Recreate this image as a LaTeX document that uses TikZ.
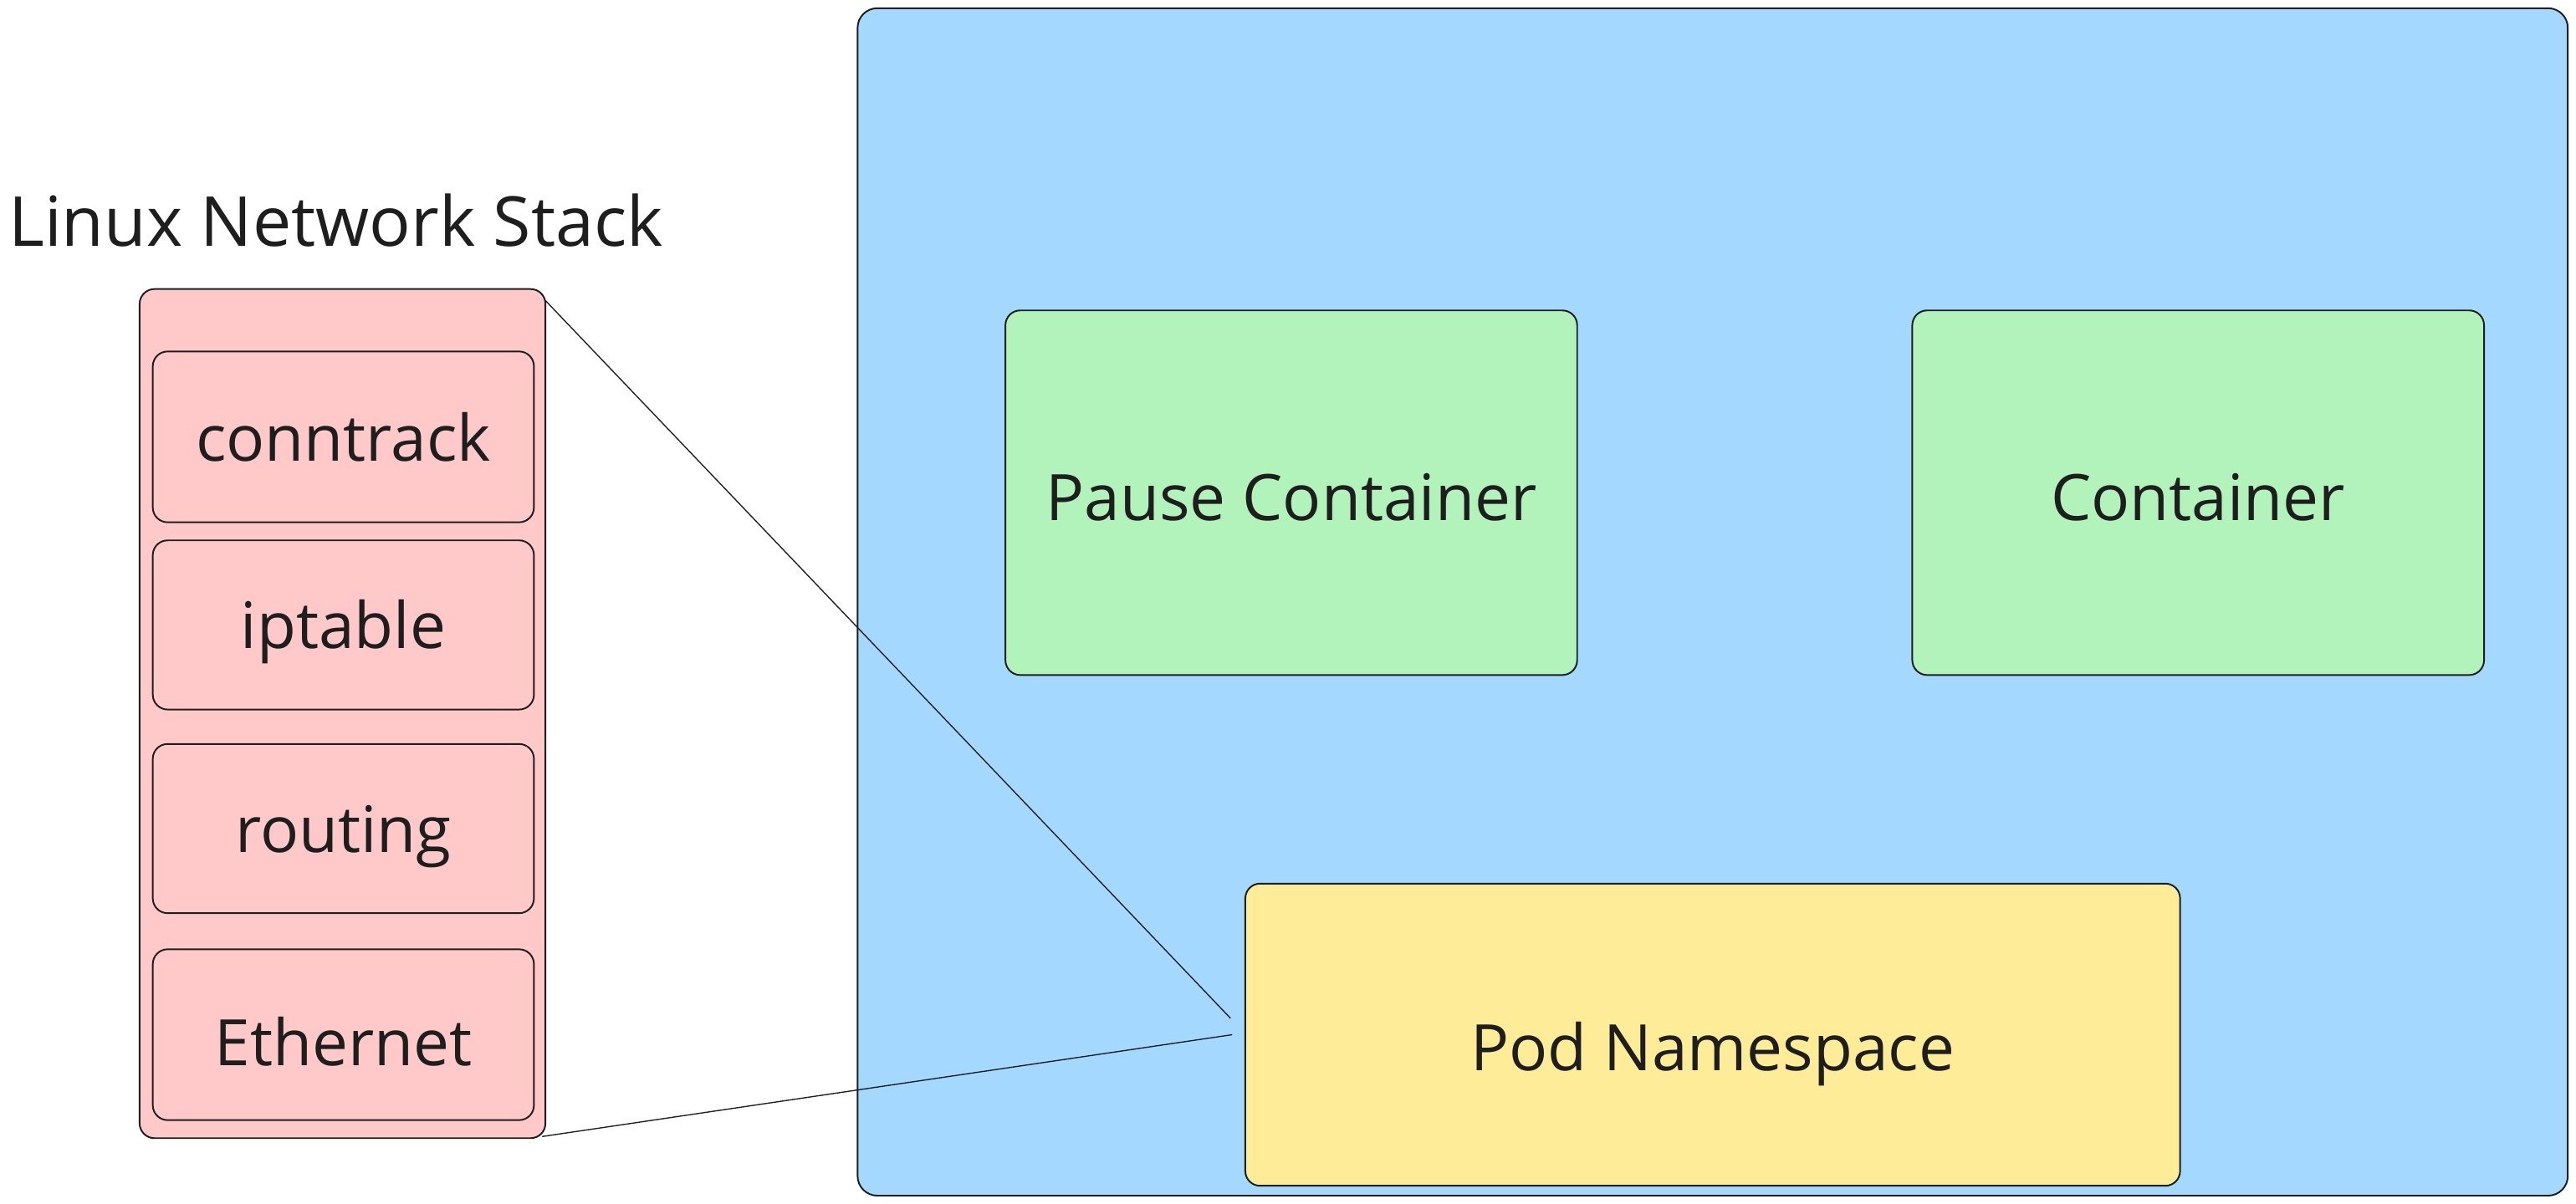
\documentclass[tikz,border=0pt]{standalone}
\usepackage{fontspec}
\setmainfont{Open Sans}
\definecolor{ink}{HTML}{1E1E1E}
\definecolor{podblue}{HTML}{A5D8FF}
\definecolor{boxgreen}{HTML}{B2F2BB}
\definecolor{stackpink}{HTML}{FFC9C9}
\definecolor{nsyellow}{HTML}{FFEC99}
\newcommand{\lowertxt}[2]{\raisebox{-#1}[\height][\depth]{#2}}
\begin{document}
\begin{tikzpicture}[x=1pt,y=-1pt,
  box/.style={draw=ink,line width=1pt,rounded corners=9pt,inner sep=0pt,align=center,text=ink},
  lbl/.style={font=\fontsize{39}{44}\selectfont},
  link/.style={draw=ink,line width=0.7pt}]
\useasboundingbox (0,0) rectangle (1568,732.6);
% pod
\node[box,fill=podblue,rounded corners=12pt,minimum width=1041pt,minimum height=723pt] (pod) at (1042.5,366.5) {};
% stack
\node[font=\fontsize{42}{48}\selectfont,text=ink,anchor=west,inner sep=0pt] (title) at (5,134) {Linux Network Stack};
\node[box,fill=stackpink,minimum width=247pt,minimum height=517pt] (stack) at (208.5,434.5) {};
\node[box,lbl,fill=stackpink,minimum width=232pt,minimum height=104pt] (conntrack) at (209,266) {conntrack};
\node[box,lbl,fill=stackpink,minimum width=232pt,minimum height=103pt] (iptable) at (209,380.5) {\lowertxt{4pt}{iptable}};
\node[box,lbl,fill=stackpink,minimum width=232pt,minimum height=103pt] (routing) at (209,504.5) {\lowertxt{5pt}{routing}};
\node[box,lbl,fill=stackpink,minimum width=232pt,minimum height=104pt] (ethernet) at (209,630) {\lowertxt{4pt}{Ethernet}};
% containers
\node[box,lbl,fill=boxgreen,minimum width=348pt,minimum height=222pt] (pause) at (786,300) {\lowertxt{3pt}{Pause Container}};
\node[box,lbl,fill=boxgreen,minimum width=348pt,minimum height=222pt] (cont) at (1338,300) {\lowertxt{3pt}{Container}};
\node[box,lbl,fill=nsyellow,minimum width=569pt,minimum height=184pt] (ns) at (1042.5,630) {\lowertxt{12pt}{Pod Namespace}};
% connectors
\coordinate (c1) at (749,620);
\coordinate (c2) at (750,630);
\coordinate (s1) at (332,183);
\coordinate (s2) at (330,692);
\draw[link] (s1) -- (c1);
\draw[link] (s2) -- (c2);
\end{tikzpicture}
\end{document}
